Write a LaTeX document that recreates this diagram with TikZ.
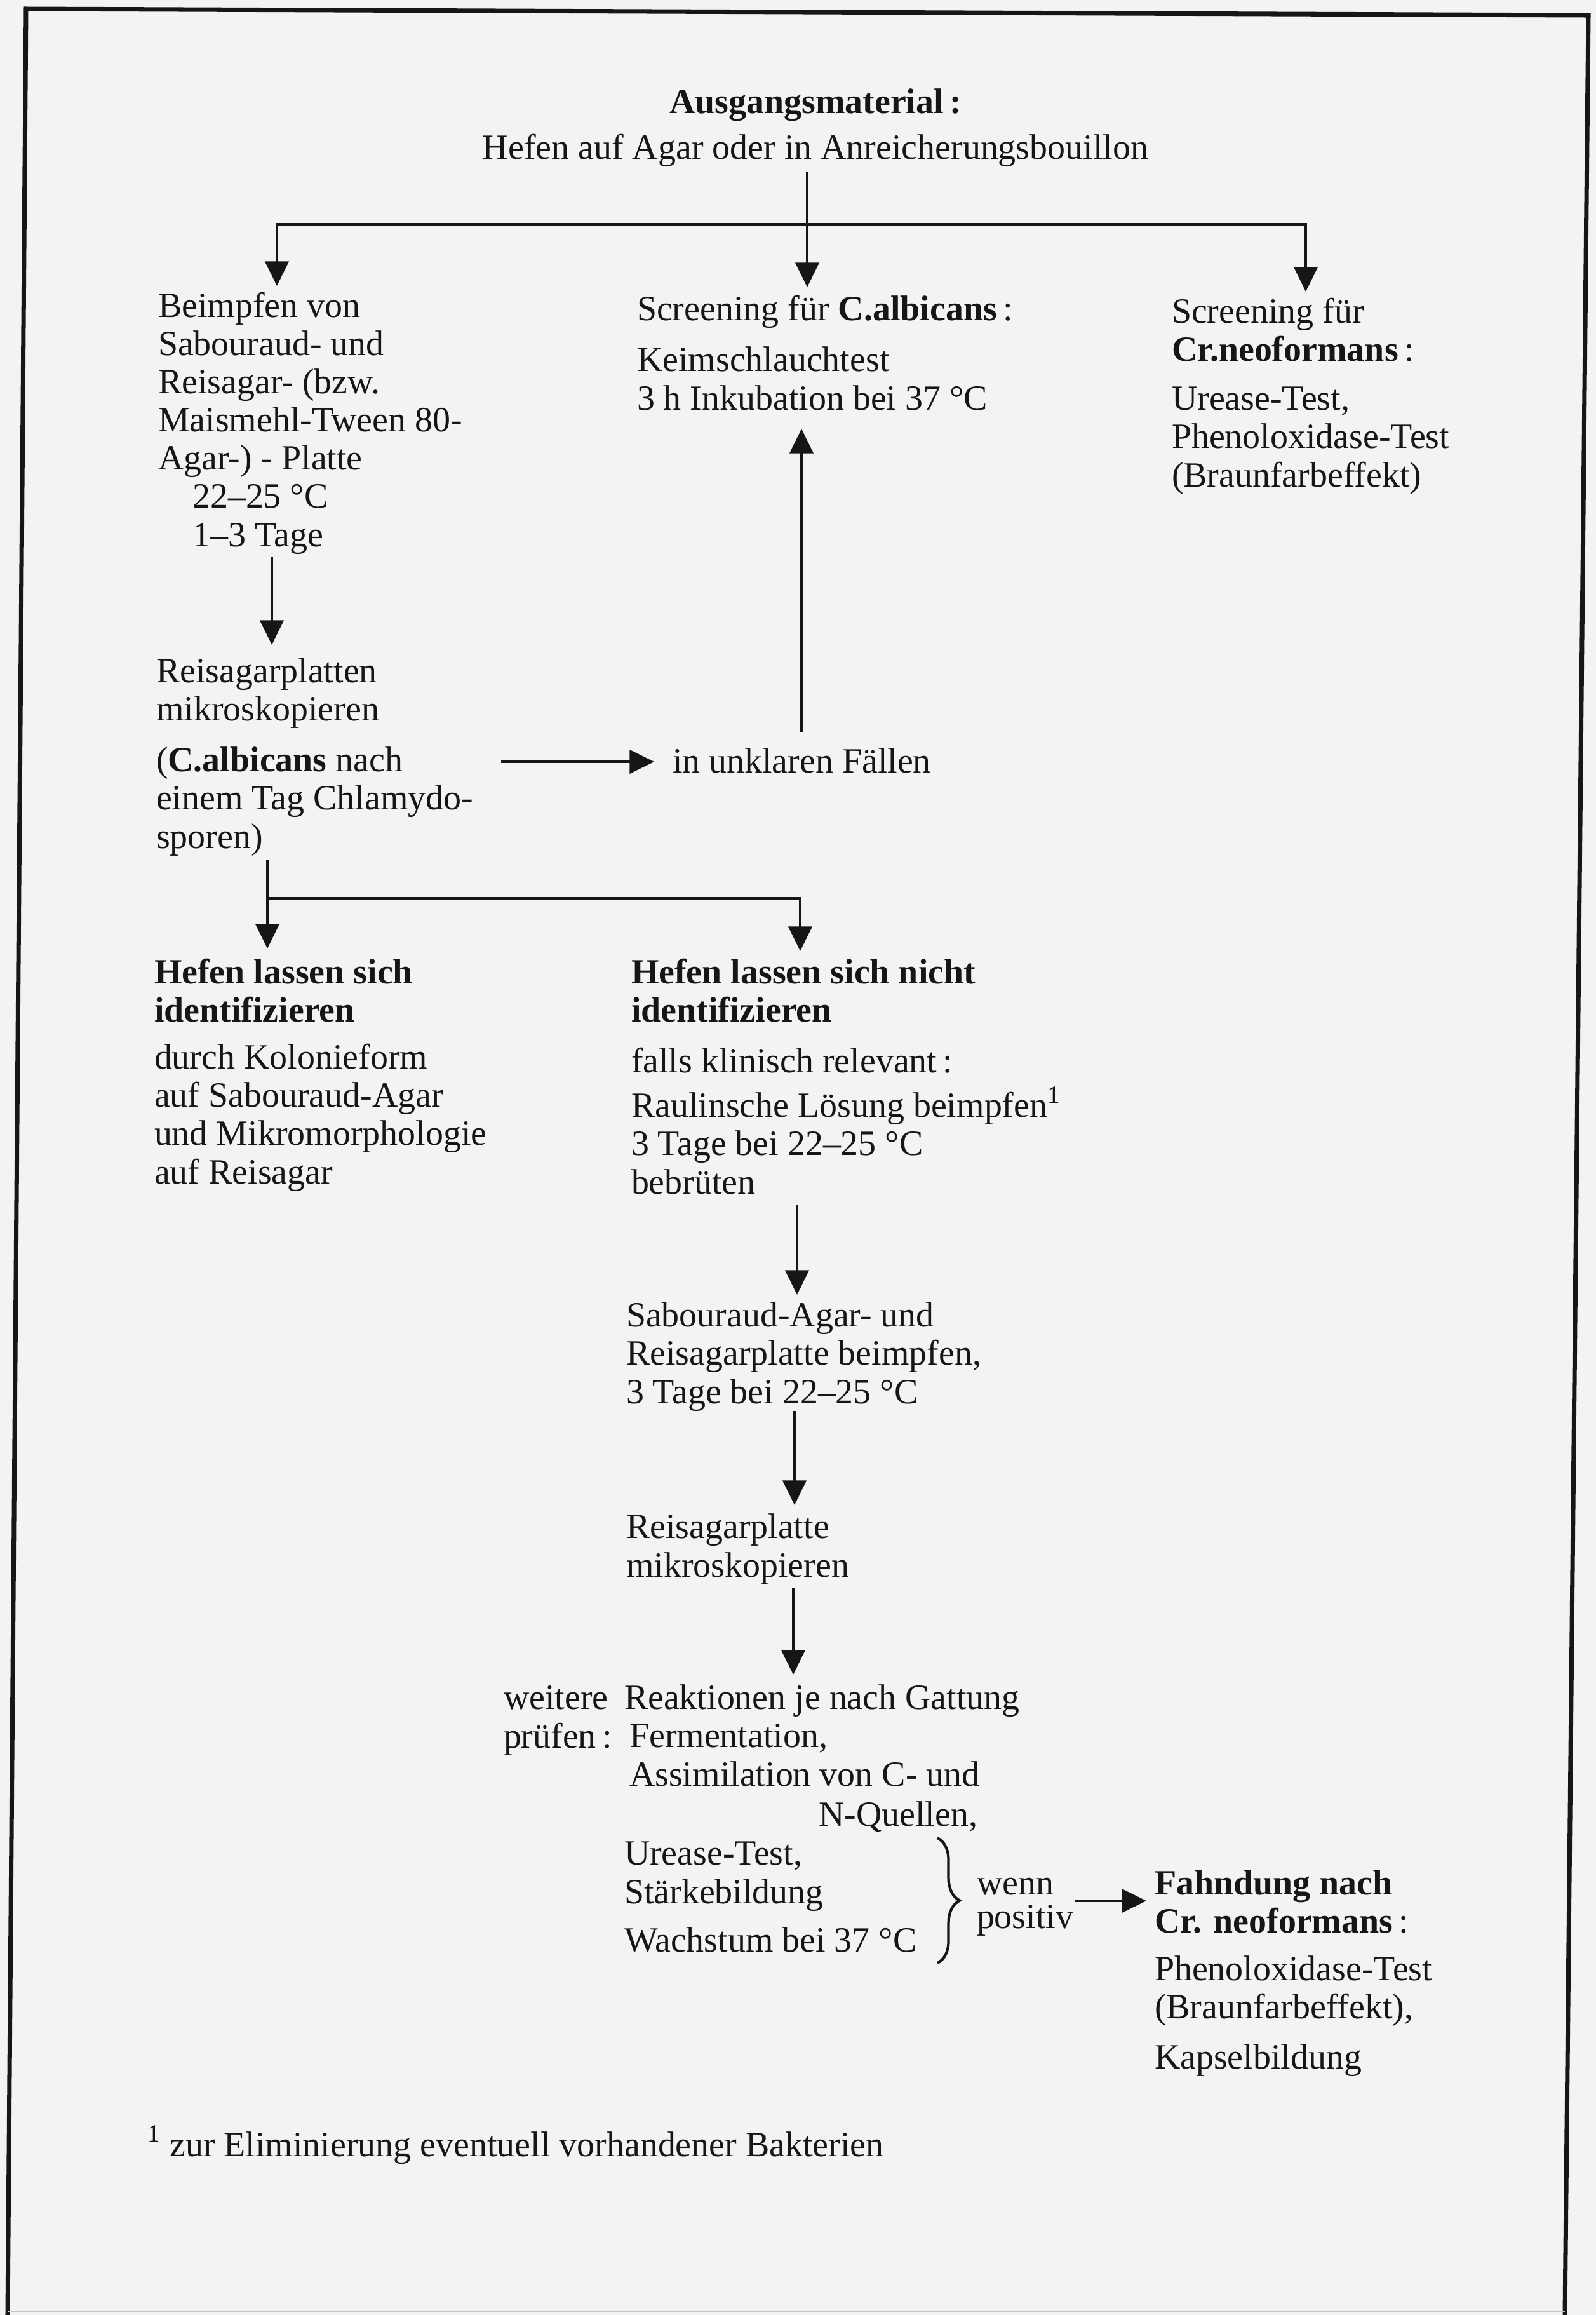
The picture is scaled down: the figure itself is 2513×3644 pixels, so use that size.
\documentclass[tikz,border=0pt]{standalone}
\usepackage{fontspec}
\setmainfont{Liberation Serif}
\usetikzlibrary{arrows.meta,decorations.pathreplacing}
\definecolor{paper}{RGB}{243,243,243}
\definecolor{ink}{RGB}{22,22,22}
\begin{document}
% multi-line nodes are placed by the baseline of their last line
\begin{tikzpicture}[x=0.01cm,y=-0.01cm,
  txt/.style={inner sep=0pt, outer sep=0pt, anchor=base west, align=left,
    text=ink, font=\fontsize{15.9}{17.1}\selectfont},
  ctxt/.style={txt, anchor=base, align=center},
  wire/.style={line width=1.3pt, draw=ink},
  flow/.style={wire, -{Triangle[width=10.5pt,length=11pt]}},
  frame/.style={line width=2pt, draw=ink}]

% page and frame
\useasboundingbox (0,0) rectangle (2513,3644);
\fill[paper] (0,0) rectangle (2513,3644);
\draw[frame] (12,3644) -- (41,14) -- (2501,24) -- (2464,3644);
\draw[line width=0.6pt, draw=gray!45] (12,3638) -- (2464,3638);

% starting material
\node[ctxt] (title) at (1284,178) {\textbf{Ausgangsmaterial\,:}};
\node[ctxt] (src) at (1284,250) {Hefen auf Agar oder in Anreicherungsbouillon};

% first row
\node[txt] (beimpfen) at (249,860) {Beimpfen von\\Sabouraud- und\\Reisagar- (bzw.\\Maismehl-Tween 80-\\Agar-) - Platte\\\hspace*{15.4pt}22--25 °C\\\hspace*{15.4pt}1--3 Tage};
\node[txt] (albscreen) at (1003,645) {Screening für \textbf{C.albicans}\,:\\[5.7pt]Keimschlauchtest\\3 h Inkubation bei 37 °C};
\node[txt] (neoscreen) at (1845,766) {Screening für\\\textbf{Cr.neoformans}\,:\\[4.8pt]Urease-Test,\\Phenoloxidase-Test\\(Braunfarbeffekt)};

% rice agar plates
\node[txt] (reisplatten) at (246,1335) {Reisagarplatten\\mikroskopieren\\[5.7pt](\textbf{C.albicans} nach\\einem Tag Chlamydo-\\sporen)};
\node[txt] (unklar) at (1059,1216) {in unklaren Fällen};

% identification outcome
\node[txt] (ident) at (243,1863) {\textbf{Hefen lassen sich}\\\textbf{identifizieren}\\[4pt]durch Kolonieform\\auf Sabouraud-Agar\\und Mikromorphologie\\auf Reisagar};
\node[txt] (nichtident) at (994,1879) {\textbf{Hefen lassen sich nicht}\\\textbf{identifizieren}\\[5.7pt]falls klinisch relevant\,:\\[2.8pt]Raulinsche Lösung beimpfen\textsuperscript{1}\\3 Tage bei 22--25 °C\\bebrüten};

% further steps
\node[txt] (sabagar) at (986,2209) {Sabouraud-Agar- und\\Reisagarplatte beimpfen,\\3 Tage bei 22--25 °C};
\node[txt] (reisplatte) at (986,2482) {Reisagarplatte\\mikroskopieren};
\node[txt] (weitere) at (793,2751) {weitere\\prüfen\,:};
\node[txt] (reaktionen) at (983,2811) {Reaktionen je nach Gattung\\\hspace*{2.3pt}Fermentation,\\\hspace*{2.3pt}Assimilation von C- und};
\node[txt] (nquellen) at (1289,2874) {N-Quellen,};
\node[txt] (urease) at (983,3072) {Urease-Test,\\Stärkebildung\\[4.5pt]Wachstum bei 37 °C};
\node[txt] (wenn) at (1538,3035) {wenn\\[-2.3pt]positiv};
\node[txt] (fahndung) at (1818,3256) {\textbf{Fahndung nach}\\\textbf{Cr. neoformans}\,:\\[4.3pt]Phenoloxidase-Test\\(Braunfarbeffekt),\\[5.1pt]Kapselbildung};

% footnote
\node[txt] (fn) at (232,3394) {\textsuperscript{1} zur Eliminierung eventuell vorhandener Bakterien};

% connector ports
\coordinate (srcout) at (1271,270);
\coordinate (forkM) at (1271,353);
\coordinate (forkL) at (436,353);
\coordinate (forkR) at (2056,353);
\coordinate (albin) at (1271,452);
\coordinate (beimpfenin) at (436,450);
\coordinate (neoin) at (2056,459);
\coordinate (beimpfenout) at (428,876);
\coordinate (reisin) at (428,1015);
\coordinate (chlamout) at (789,1199);
\coordinate (unklarin) at (1030,1199);
\coordinate (unklarout) at (1262,1152);
\coordinate (albback) at (1262,675);
\coordinate (reisout) at (421,1353);
\coordinate (forkB) at (421,1414);
\coordinate (identin) at (421,1493);
\coordinate (forkBR) at (1260,1414);
\coordinate (nichtin) at (1260,1497);
\coordinate (nichtout) at (1255,1897);
\coordinate (sabin) at (1255,2038);
\coordinate (sabout) at (1251,2221);
\coordinate (plattein) at (1251,2369);
\coordinate (platteout) at (1249,2500);
\coordinate (reakin) at (1249,2636);
\coordinate (braceTop) at (1476,2893);
\coordinate (braceBot) at (1476,3090);
\coordinate (wennout) at (1692,2992);
\coordinate (fahndin) at (1805,2992);

% connectors
\draw[flow] (srcout) -- (albin);
\draw[flow] (forkM) -- (forkL) -- (beimpfenin);
\draw[flow] (forkM) -- (forkR) -- (neoin);
\draw[flow] (beimpfenout) -- (reisin);
\draw[flow] (chlamout) -- (unklarin);
\draw[flow] (unklarout) -- (albback);
\draw[flow] (reisout) -- (identin);
\draw[flow] (forkB) -- (forkBR) -- (nichtin);
\draw[flow] (nichtout) -- (sabin);
\draw[flow] (sabout) -- (plattein);
\draw[flow] (platteout) -- (reakin);
\draw[line width=1.2pt, draw=ink, decorate, decoration={brace, amplitude=10pt}] (braceTop) -- (braceBot);
\draw[flow] (wennout) -- (fahndin);
\end{tikzpicture}
\end{document}
